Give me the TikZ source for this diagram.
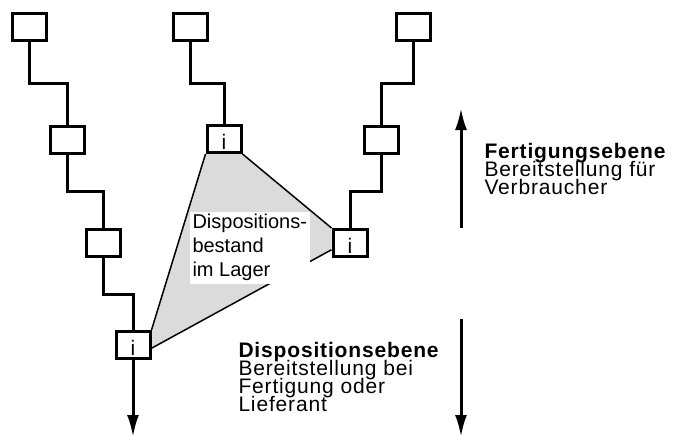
\documentclass[tikz,border=0pt]{standalone}
\usepackage{fontspec}
\setmainfont{Liberation Sans}
\newfontfamily\wideface{Liberation Sans}[LetterSpace=4]
\newcommand\levelfont{\wideface\fontsize{21}{18}\selectfont\lineskiplimit -10pt\relax}
\usetikzlibrary{arrows.meta,backgrounds,calc}

\begin{document}
\begin{tikzpicture}[x=1pt, y=-1pt, line width=3pt, >={Latex[length=22pt,width=12pt]},
        box/.style={draw, line width=3pt, minimum width=34pt, minimum height=27pt, inner sep=0pt},
        ibox/.style={box, label={[anchor=base, yshift=4.5pt, inner sep=0pt, font=\fontsize{21}{21}\selectfont]south:i}},
        level/.style={anchor=north west, align=left, inner sep=0pt, font=\levelfont}]
    \useasboundingbox (0,0) rectangle (678,439);

    % Nodes
    \node[box] (L1) at (29,27) {};
    \node[box] (L2) at (67,140) {};
    \node[box] (L3) at (103,243) {};
    \node[ibox] (L4) at (133,345) {};
    \node[box] (M1) at (190,27) {};
    \node[ibox] (M2) at (224,139) {};
    \node[box] (R1) at (413,27) {};
    \node[box] (R2) at (381,140) {};
    \node[ibox] (R3) at (350,243) {};

    % Stock between the i levels
    \begin{scope}[on background layer]
        \fill[black!14] (M2.south west) -- (M2.south east) -- (R3.north west) -- (R3.200)
            -- (L4.350) -- (L4.north east) -- cycle;
    \end{scope}
    \draw[line width=1.5pt] (M2.south west) -- (L4.north east);
    \draw[line width=1.5pt] (M2.south east) -- (R3.north west);
    \draw[line width=1.5pt] (R3.200) -- (L4.350);
    \node[fill=white, anchor=north west, align=left, inner sep=3pt,
        font=\fontsize{20}{24}\selectfont] (stock) at (188,210)
        {Dispositions-\\bestand\\im Lager};

    % Steps
    \foreach \a/\b in {L1/L2, L2/L3, L3/L4, M1/M2, R1/R2, R2/R3}
        \draw (\a.south) |- ($(\a.south)!.5!(\b.north)$) -| (\b.north);

    % Arrows
    \coordinate (out) at (133,437);
    \draw[->] (L4.south) -- (out);
    \coordinate (upfoot) at (461,228);
    \coordinate (uptip) at (461,108);
    \draw[->] (upfoot) -- (uptip);
    \coordinate (downtop) at (461,319);
    \coordinate (downtip) at (461,437);
    \draw[->] (downtop) -- (downtip);

    % Level texts
    \node[level] (fert) at (483,142) {\textbf{Fertigungsebene}\\Bereitstellung für\\Verbraucher};
    \node[level] (dispo) at (237,341) {\textbf{Dispositionsebene}\\Bereitstellung bei\\Fertigung oder\\Lieferant};
\end{tikzpicture}
\end{document}
